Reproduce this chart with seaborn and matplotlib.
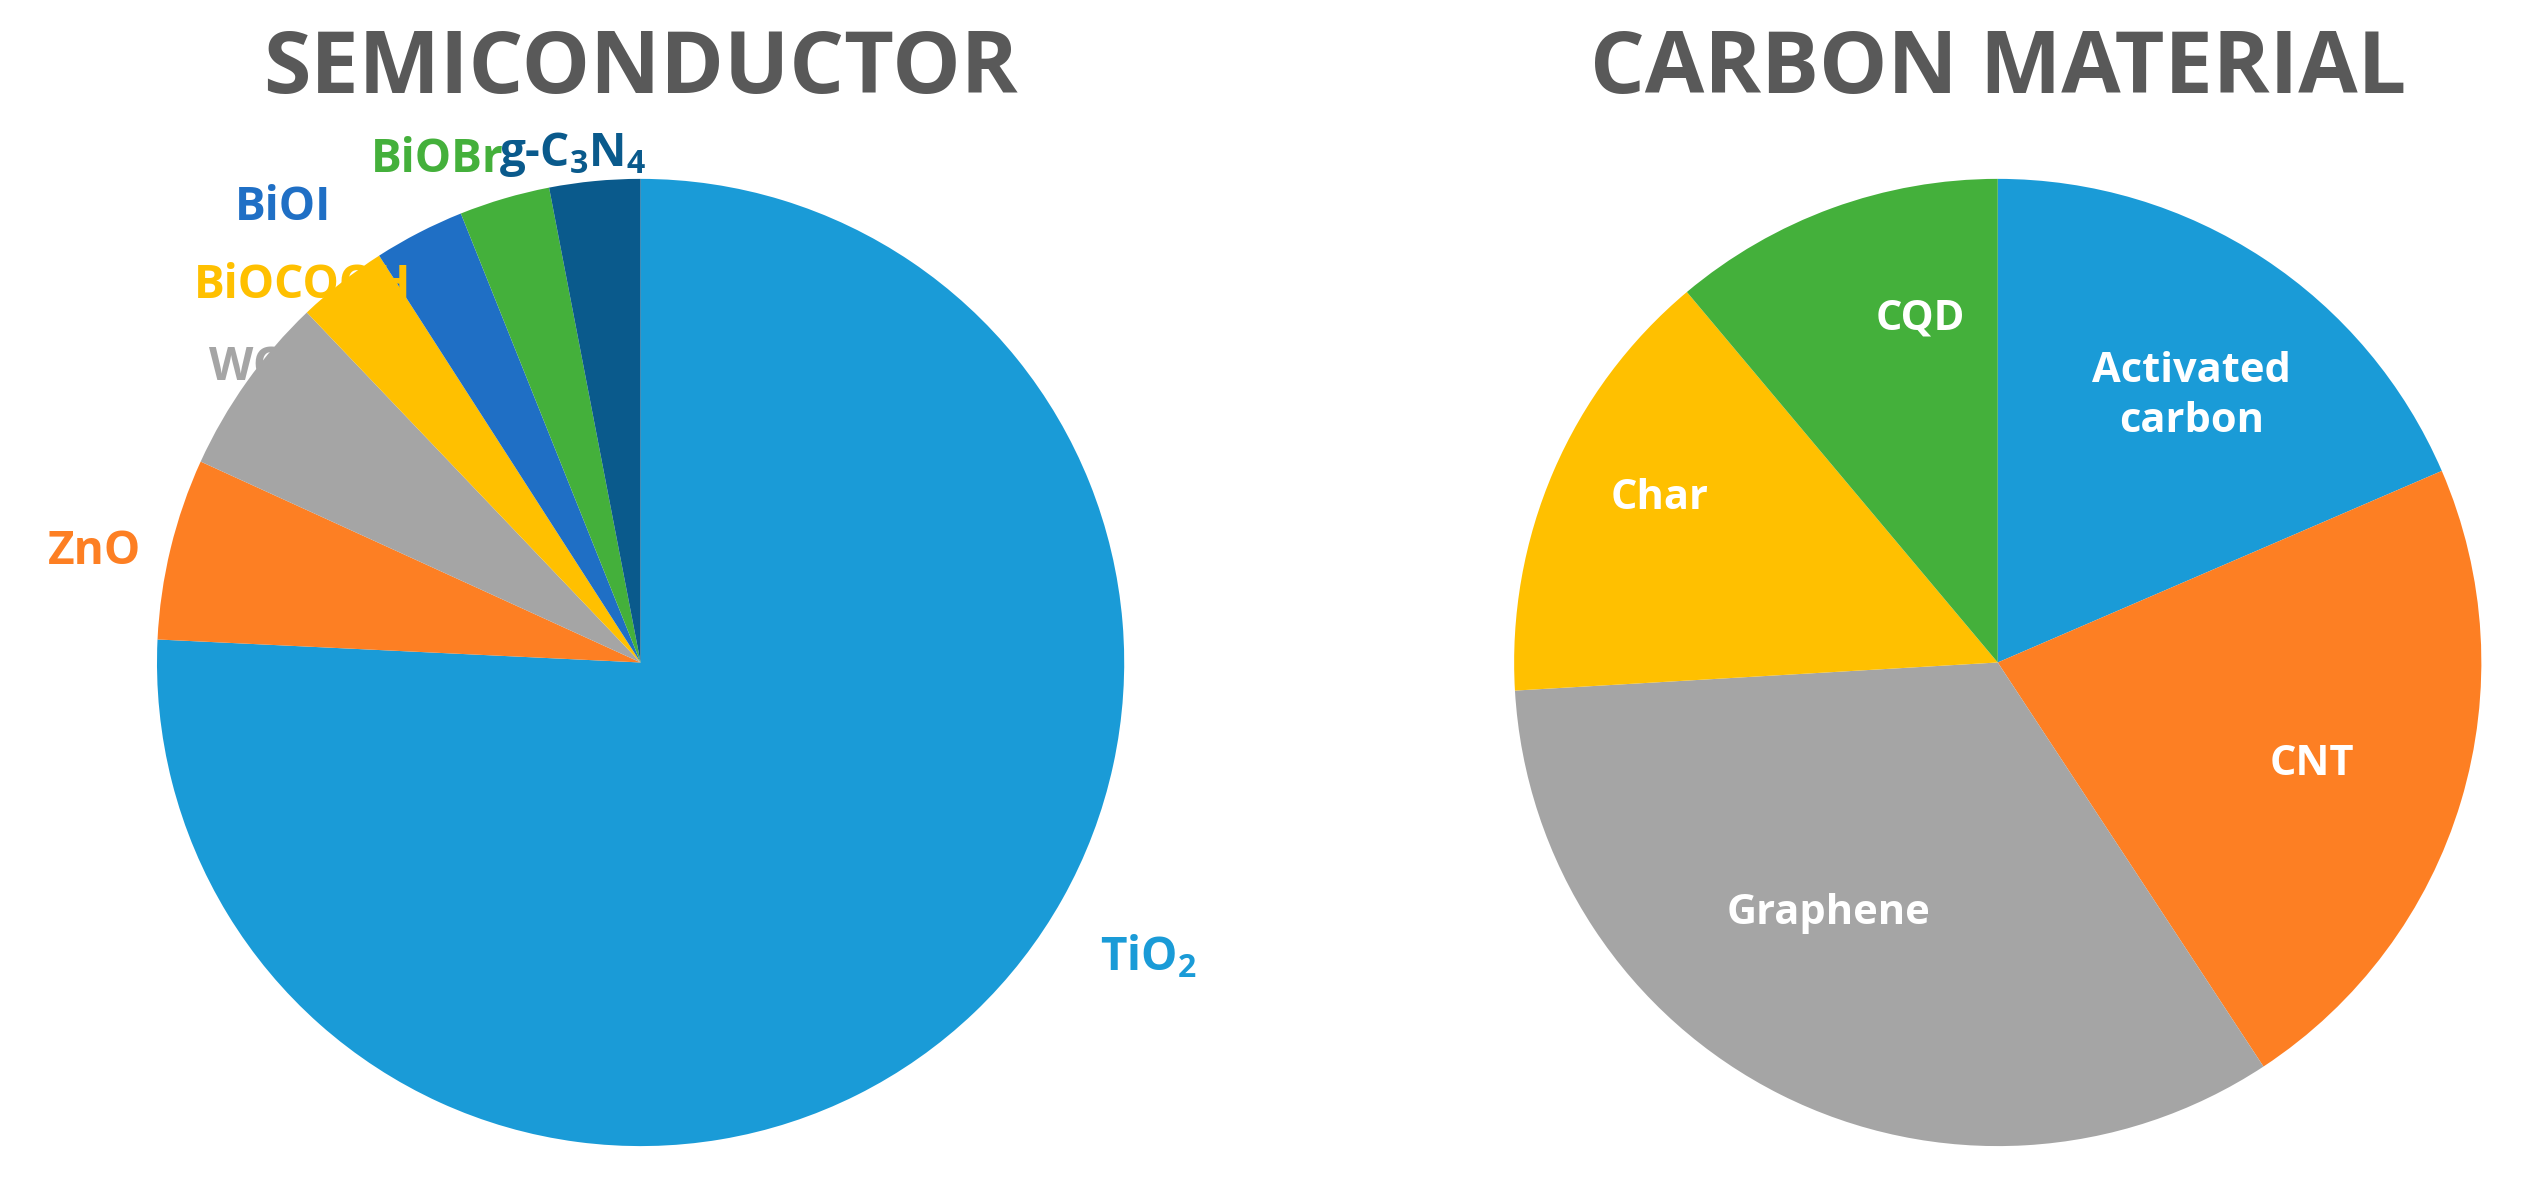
import numpy as np
import matplotlib
matplotlib.use("Agg")
import matplotlib.pyplot as plt
import seaborn as sns

sns.set_theme(style="white")
plt.rcParams['font.family'] = ['Open Sans', 'DejaVu Sans']
plt.rcParams['mathtext.fontset'] = 'custom'
plt.rcParams['mathtext.rm'] = 'Open Sans:bold'
plt.rcParams['mathtext.it'] = 'Open Sans:bold'
plt.rcParams['mathtext.bf'] = 'Open Sans:bold'

# semiconductor share (counts)
semi_labels = ['TiO$_2$', 'ZnO', 'WO$_3$', 'BiOCOOH', 'BiOI', 'BiOBr', 'g-C$_3$N$_4$']
semi_values = [25, 2, 2, 1, 1, 1, 1]
semi_colors = ['#1a9bd7', '#fd7f23', '#a5a5a5', '#ffc000', '#1f6fc5', '#44b03b', '#0a5a8c']
semi_label_pos = [(1.05, -0.61), (-1.13, 0.23), (-0.79, 0.61), (-0.70, 0.78),
                  (-0.74, 0.94), (-0.42, 1.04), (-0.14, 1.05)]

carbon_labels = ['Activated\ncarbon', 'CNT', 'Graphene', 'Char', 'CQD']
carbon_values = [5, 6, 9, 4, 3]
carbon_colors = ['#1a9bd7', '#fd7f23', '#a5a5a5', '#ffc000', '#44b03b']
carbon_label_pos = [(0.40, 0.55), (0.65, -0.21), (-0.35, -0.52), (-0.70, 0.34), (-0.16, 0.71)]

fig = plt.figure(figsize=(25.32, 11.83), dpi=100)
ax1 = fig.add_axes([0.062, 0.031, 0.382, 0.818])
ax2 = fig.add_axes([0.598, 0.031, 0.382, 0.818])

ax1.pie(semi_values, colors=semi_colors, startangle=90, counterclock=False,
        wedgeprops=dict(linewidth=0))
for lab, c, (x, y) in zip(semi_labels, semi_colors, semi_label_pos):
    ax1.text(x, y, lab, color=c, fontsize=33, fontweight='bold', ha='center', va='center')
ax1.set_title('SEMICONDUCTOR', fontsize=62, fontweight='bold', color='#595959', y=1.08)

ax2.pie(carbon_values, colors=carbon_colors, startangle=90, counterclock=False,
        wedgeprops=dict(linewidth=0))
for lab, (x, y) in zip(carbon_labels, carbon_label_pos):
    ax2.text(x, y, lab, color='white', fontsize=30, fontweight='bold', ha='center', va='center',
             linespacing=1.3)
ax2.set_title('CARBON MATERIAL', fontsize=62, fontweight='bold', color='#595959', y=1.08)

for ax in (ax1, ax2):
    ax.set_aspect('equal')
    ax.set_xlim(-1.0, 1.0)
    ax.set_ylim(-1.0, 1.0)
    ax.set_axis_off()

fig.savefig('out.png', dpi=100)
